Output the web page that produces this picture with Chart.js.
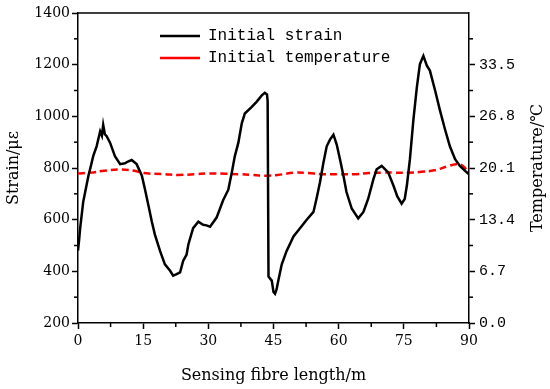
<!DOCTYPE html>
<html>
<head>
<meta charset="utf-8">
<script src="https://cdn.jsdelivr.net/npm/chart.js@4"></script>
<style>
  body { margin: 0; background: #fff; }
  #wrap { width: 550px; height: 389px; }
</style>
</head>
<body>
<div id="wrap"><canvas id="myChart"></canvas></div>
<script>
// strain along the fibre (m, με)
const strainLength = [0, 0.3, 0.5, 1.2, 2.4, 3.0, 3.5, 4.3, 5.1, 5.5, 5.8, 6.2, 6.6, 7.4, 8.5, 9.7, 10.8, 11.5, 12.35, 13.5,
    14.7, 15.4, 16.2, 17.0, 17.7, 18.9, 20.0, 21.2, 21.9, 22.7, 23.5, 24.2, 25.0, 25.4, 26.5, 27.7, 28.8, 29.6, 30.4, 31.9,
    33.4, 34.6, 35.4, 36.1, 36.9, 37.7, 38.4, 40.0, 41.1, 42.3, 43.0, 43.5, 43.65, 43.85, 44.6, 45.0, 45.35, 45.7, 46.1, 46.9,
    48.0, 49.6, 51.1, 52.6, 54.2, 54.9, 55.7, 56.5, 57.25, 58.0, 58.8, 59.55, 60.3, 61.1, 61.8, 63.0, 64.5, 65.7, 66.8, 68.0,
    68.75, 69.9, 71.4, 72.6, 73.5, 74.5, 75.2, 75.7, 76.4, 77.2, 78.0, 78.7, 79.5, 80.3, 81.0, 82.2, 83.3, 84.5, 85.6, 86.8,
    87.9, 89.1, 90.0];
const strainValues = [480, 530, 567, 669, 770, 810, 846, 885, 942, 925, 967, 930, 923, 897, 846, 815, 818, 825, 831, 815,
    770, 719, 656, 592, 542, 478, 427, 402, 383, 389, 396, 440, 465, 504, 567, 592, 580, 578, 573, 608,
    675, 716, 783, 846, 897, 973, 1011, 1037, 1056, 1081, 1091, 1085, 1060, 380, 364, 320, 313, 330, 364, 427,
    478, 535, 567, 599, 630, 681, 745, 821, 884, 910, 929, 891, 834, 770, 707, 643, 605, 630, 681, 757,
    795, 808, 783, 732, 690, 662, 680, 732, 834, 986, 1113, 1202, 1234, 1196, 1177, 1100, 1024, 948, 884, 834,
    808, 789, 776];

// temperature along the fibre (m, ℃)
const tempLength = [0, 3, 6, 10, 13, 15, 20, 23, 27, 30, 34, 37, 40, 43, 46, 50, 53, 56, 60, 64, 67, 70, 73, 76, 79, 82, 85, 87, 88.5, 90];
const tempValues = [19.4, 19.5, 19.75, 19.9, 19.75, 19.45, 19.3, 19.2, 19.3, 19.4, 19.35, 19.3, 19.2, 19.1, 19.2, 19.5, 19.45,
    19.3, 19.3, 19.3, 19.45, 19.5, 19.5, 19.5, 19.6, 19.8, 20.3, 20.6, 20.4, 19.5];

const seriesNames = ['Initial strain', 'Initial temperature'];
const rightTitle = 'Temperature/℃';

const serif = 'DejaVu Serif';
const mono = 'Liberation Mono';

const extras = {
    id: 'extras',
    afterLayout(chart) {
        // move the legend into the upper middle of the plot
        chart.legend.left = 154;
        chart.legend.top = 22;
    },
    afterDraw(chart) {
        const ctx = chart.ctx;
        const a = chart.chartArea;
        ctx.save();
        ctx.strokeStyle = '#000';
        ctx.lineWidth = 1.5;
        // minor ticks halfway between the labelled ones
        ['x', 'y', 'y2'].forEach((id) => {
            const s = chart.scales[id];
            const t = s.ticks;
            for (let i = 0; i < t.length - 1; i++) {
                const p = s.getPixelForValue((t[i].value + t[i + 1].value) / 2);
                ctx.beginPath();
                if (id === 'x') { ctx.moveTo(p, s.top); ctx.lineTo(p, s.top + 4); }
                else if (id === 'y') { ctx.moveTo(s.right, p); ctx.lineTo(s.right - 4, p); }
                else { ctx.moveTo(s.left, p); ctx.lineTo(s.left + 4, p); }
                ctx.stroke();
            }
        });
        // top frame line
        ctx.beginPath();
        ctx.moveTo(a.left, a.top);
        ctx.lineTo(a.right, a.top);
        ctx.stroke();
        // right axis title, reading bottom to top
        ctx.translate(538, (a.top + a.bottom) / 2);
        ctx.rotate(-Math.PI / 2);
        ctx.fillStyle = '#000';
        ctx.font = '16px "' + serif + '"';
        ctx.textAlign = 'center';
        ctx.textBaseline = 'middle';
        ctx.fillText(rightTitle, 0, 0);
        ctx.restore();
    }
};

const axisGrid = { drawOnChartArea: false, tickLength: 6, tickColor: '#000', tickWidth: 1.5 };
const axisBorder = { color: '#000', width: 1.5 };

new Chart(document.getElementById('myChart'), {
    type: 'line',
    data: {
        datasets: [
            {
                label: seriesNames[0],
                data: strainLength.map((x, i) => ({ x: x, y: strainValues[i] })),
                borderColor: '#000',
                borderWidth: 2.5,
                pointRadius: 0,
                tension: 0,
                yAxisID: 'y'
            },
            {
                label: seriesNames[1],
                data: tempLength.map((x, i) => ({ x: x, y: tempValues[i] })),
                borderColor: '#ff0000',
                borderWidth: 2.5,
                borderDash: [7, 4],
                pointRadius: 0,
                tension: 0.4,
                yAxisID: 'y2'
            }
        ]
    },
    options: {
        responsive: true,
        maintainAspectRatio: false,
        animation: false,
        layout: { padding: { top: 8 } },
        plugins: {
            legend: {
                position: 'chartArea',
                align: 'start',
                labels: {
                    usePointStyle: true,
                    pointStyle: 'line',
                    pointStyleWidth: 40,
                    padding: 6,
                    color: '#000',
                    font: { family: mono, size: 16 }
                }
            },
            tooltip: { enabled: false }
        },
        scales: {
            x: {
                type: 'linear',
                min: 0,
                max: 90,
                ticks: { stepSize: 15, color: '#000', padding: 4, font: { family: serif, size: 14 }, callback: (v) => String(v) },
                grid: axisGrid,
                border: axisBorder,
                title: { display: true, text: 'Sensing fibre length/m', color: '#000', font: { family: serif, size: 16 }, padding: { top: 0, bottom: 4 } },
                afterFit: (s) => { s.height = 66; }
            },
            y: {
                position: 'left',
                min: 200,
                max: 1400,
                ticks: { stepSize: 200, color: '#000', padding: 2, font: { family: serif, size: 14 }, callback: (v) => String(v) },
                grid: axisGrid,
                border: axisBorder,
                title: { display: true, text: 'Strain/με', color: '#000', font: { family: serif, size: 16 }, padding: { top: 4, bottom: 0 } },
                afterFit: (s) => { s.width = 78; }
            },
            y2: {
                position: 'right',
                min: 0,
                max: 40.2,
                ticks: {
                    stepSize: 6.7,
                    color: '#000',
                    padding: 4,
                    font: { family: mono, size: 15 },
                    callback: (v) => (v > 40 ? '' : Number(v).toFixed(1))
                },
                grid: Object.assign({}, axisGrid, {
                    tickColor: (c) => (c.tick && c.tick.value > 40 ? 'rgba(0,0,0,0)' : '#000')
                }),
                border: axisBorder,
                title: { display: false },
                afterFit: (s) => { s.width = 81; }
            }
        }
    },
    plugins: [extras]
});
</script>
</body>
</html>
